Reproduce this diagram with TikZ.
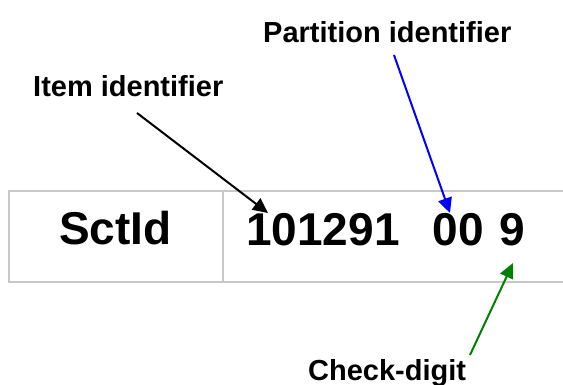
\documentclass[tikz,border=0pt]{standalone}
\usepackage{fontspec}
\setmainfont{Liberation Sans}
\usetikzlibrary{arrows.meta}
\begin{document}
\begin{tikzpicture}[x=1pt,y=-1pt,
  gridline/.style={draw={rgb,255:red,200;green,200;blue,200},line width=1.6pt},
  biglabel/.style={font=\fontsize{46}{50}\selectfont\bfseries,inner sep=0pt,anchor=base west},
  smalllabel/.style={font=\fontsize{29}{32}\selectfont\bfseries,inner sep=0pt,anchor=base west},
  pointer/.style={line width=2pt,-{Triangle[length=15pt,width=14pt]}}]
\useasboundingbox (0,0) rectangle (563,385);
% table
\coordinate (tl) at (9,191);
\coordinate (tr) at (563,191);
\coordinate (bl) at (9,282);
\coordinate (br) at (563,282);
\coordinate (dt) at (223,191);
\coordinate (db) at (223,282);
\draw[gridline] (tr) -- (tl) -- (bl) -- (br);
\draw[gridline] (dt) -- (db);
% texts
\node[biglabel] (sct) at (59,245) {SctId};
\node[biglabel] (num) at (246,246) {101291\hspace{33pt}00\hspace{16pt}9};
\node[smalllabel] (item) at (33,97) {Item identifier};
\node[smalllabel] (part) at (263,43) {Partition identifier};
\node[smalllabel] (check) at (308,380) {Check-digit};
% arrows
\coordinate (a1s) at (137,113);
\coordinate (a1e) at (268,213);
\coordinate (a2s) at (394,55);
\coordinate (a2e) at (450,213);
\coordinate (a3s) at (470,355);
\coordinate (a3e) at (513,263);
\draw[pointer,black] (a1s) -- (a1e);
\draw[pointer,draw={rgb,255:red,0;green,0;blue,255},fill={rgb,255:red,0;green,0;blue,255}] (a2s) -- (a2e);
\draw[pointer,draw={rgb,255:red,0;green,128;blue,0},fill={rgb,255:red,0;green,128;blue,0}] (a3s) -- (a3e);
\end{tikzpicture}
\end{document}
